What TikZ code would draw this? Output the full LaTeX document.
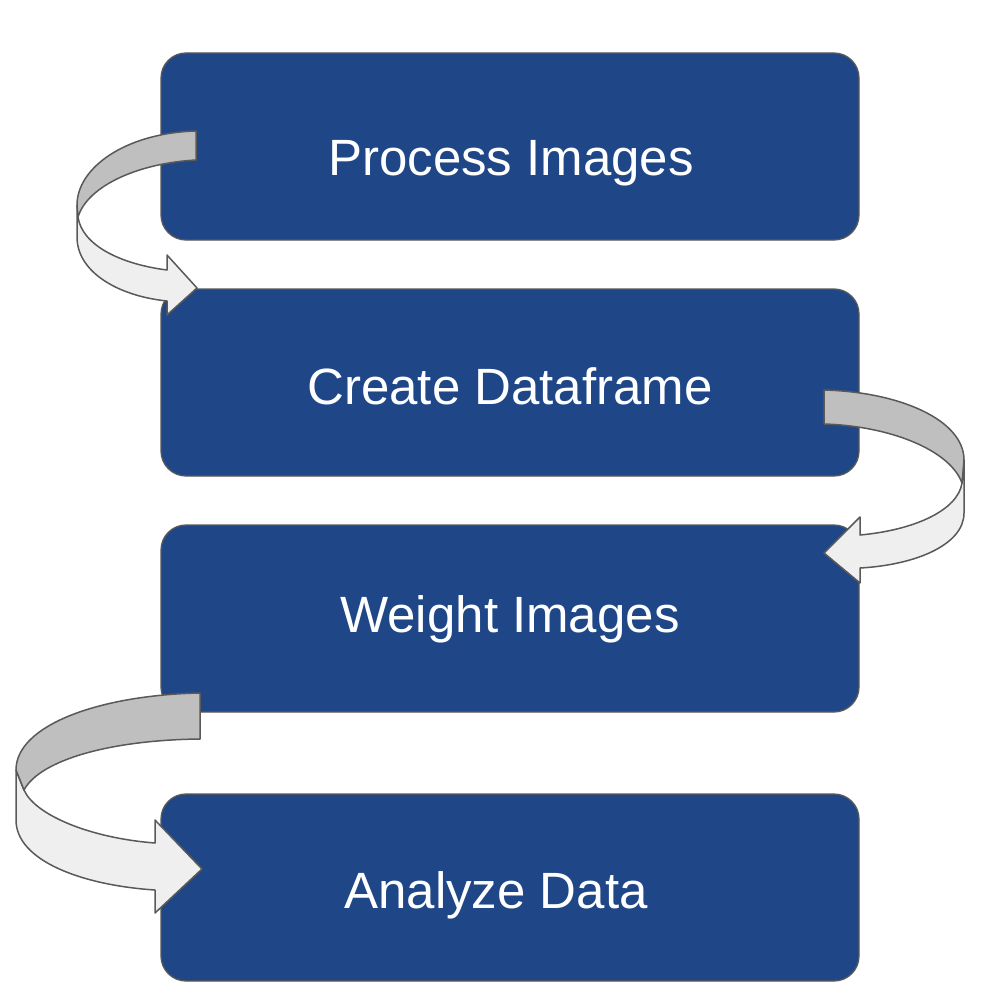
\documentclass[tikz,border=0pt]{standalone}
\usepackage{fontspec}
\setmainfont{Liberation Sans}
\definecolor{boxblue}{RGB}{31,71,136}
\definecolor{bandback}{RGB}{191,191,191}
\definecolor{bandfront}{RGB}{239,239,239}
\definecolor{edgegray}{RGB}{89,89,89}
\begin{document}
\begin{tikzpicture}[x=1pt,y=-1pt,
  stepbox/.style={draw=edgegray,line width=1.3pt,fill=boxblue,rounded corners=25pt,
    minimum width=698pt,minimum height=187pt,inner sep=0pt,outer sep=0pt},
  steplabel/.style={text=white,font=\fontsize{51}{60}\selectfont,anchor=base,inner sep=0pt},
  bandrear/.style={fill=bandback,draw=edgegray,line width=1.5pt,line join=round},
  bandfore/.style={fill=bandfront,draw=edgegray,line width=1.5pt,line join=round}]
\path[use as bounding box] (0,0) rectangle (990,990);
\node[stepbox] (b1) at (510,146.5) {};
\node[stepbox] (b2) at (510,382.5) {};
\node[stepbox] (b3) at (510,618.5) {};
\node[stepbox] (b4) at (510,887.5) {};
\node[steplabel] (t1) at (511,175) {Process Images};
\node[steplabel] (t2) at (510,404) {Create Dataframe};
\node[steplabel] (t3) at (510,632) {Weight Images};
\node[steplabel] (t4) at (496,908) {Analyze Data};
% arrow 1
\path[bandfore] (77,205) -- (77,237) .. controls (77,272) and (118,296) .. (167,301) -- (167,315) -- (197,288) -- (167,255) -- (167,270) .. controls (120,264) and (82,245) .. (78,217) -- cycle;
\path[bandrear] (196,131) .. controls (125,133) and (77,168) .. (77,205) -- (78,217) .. controls (88,185) and (140,163) .. (196,160) -- cycle;
% arrow 2
\path[bandfore] (964,460) -- (964,513) .. controls (964,545) and (915,565) .. (860,568) -- (860,583) -- (824,553) -- (860,517) -- (860,535) .. controls (915,530) and (958,510) .. (962,483) -- cycle;
\path[bandrear] (824,390) .. controls (900,392) and (964,420) .. (964,460) -- (962,483) .. controls (950,450) and (890,426) .. (824,424) -- cycle;
% arrow 3
\path[bandfore] (16,770) -- (16,820) .. controls (16,860) and (80,885) .. (155,890) -- (155,913) -- (202,869) -- (155,820) -- (155,843) .. controls (90,838) and (35,815) .. (24,790) -- cycle;
\path[bandrear] (200,693) .. controls (100,695) and (16,725) .. (16,770) -- (24,790) .. controls (40,760) and (110,740) .. (200,739) -- cycle;
\end{tikzpicture}
\end{document}
